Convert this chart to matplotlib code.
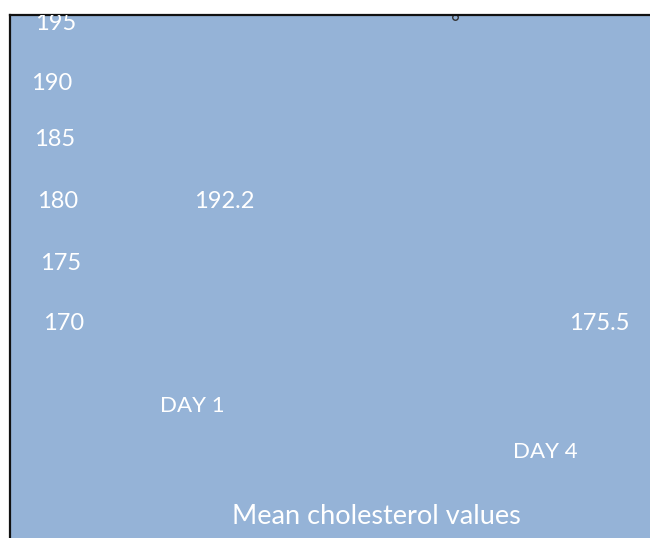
import matplotlib.pyplot as plt

# 数据
y_ticks = [195, 190, 185, 180, 175, 170]
mean_values = [192.2, 175.5]
days = ['DAY 1', 'DAY 4']
title = 'Mean cholesterol values'

plt.rcParams['font.family'] = ['Lato', 'DejaVu Sans']

W, H = 650, 538
fig = plt.figure(figsize=(W / 100, H / 100), dpi=100)

# 坐标轴直接用像素坐标（左上为原点）
left, top = 10, 15
ax = fig.add_axes([left / W, 0, (W - left) / W, (H - top) / H])
ax.set_xlim(left, W)
ax.set_ylim(H, top)
ax.set_facecolor('#95B3D7')
ax.set_xticks([])
ax.set_yticks([])
for side in ['right', 'bottom']:
    ax.spines[side].set_visible(False)
for side in ['left', 'top']:
    ax.spines[side].set_linewidth(1.6)
    ax.spines[side].set_color('#111111')

fs = 17
# y 轴刻度（倾斜排列）
tick_x = [35, 31, 34, 37, 40, 43]
tick_y = [24, 84, 140, 201, 263, 323]
for x, y, t in zip(tick_x, tick_y, y_ticks):
    ax.text(x, y, str(t), color='white', fontsize=fs, ha='left', va='center', clip_on=True)

# 数值标签
val_pos = [(194, 201), (569, 323)]
for (x, y), v in zip(val_pos, mean_values):
    ax.text(x, y, f'{v:.1f}', color='white', fontsize=fs, ha='left', va='center')

# 日期标签
day_pos = [(160, 406), (513, 452)]
for (x, y), d in zip(day_pos, days):
    ax.text(x, y, d, color='white', fontsize=16, ha='left', va='center')

ax.text(376, 516, title, color='white', fontsize=19.5, ha='center', va='center')

# 顶部的小标记
ax.plot([455], [17], marker='o', markersize=4, markerfacecolor='#95B3D7',
        markeredgecolor='#333333', markeredgewidth=1, clip_on=False)

plt.savefig('out.png', dpi=100)
